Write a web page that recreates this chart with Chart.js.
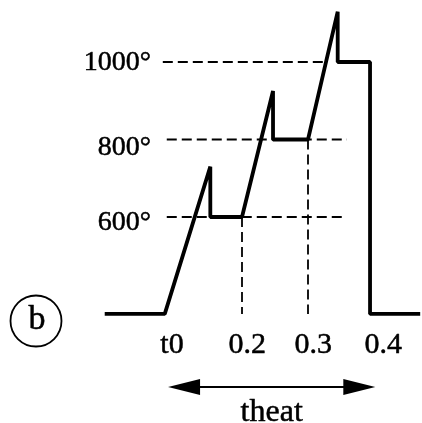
<!DOCTYPE html>
<html>
<head>
<meta charset="utf-8">
<script src="https://cdn.jsdelivr.net/npm/chart.js@4"></script>
<style>
html,body{margin:0;padding:0;background:#fff;}
#wrap{width:422px;height:423px;}
</style>
</head>
<body>
<div id="wrap"><canvas id="c" width="422" height="423"></canvas></div>
<script>
// Heating profile: time (x) vs temperature (y)
const profileTime = [-0.008, 0.083, 0.152, 0.152, 0.200, 0.247, 0.247, 0.300, 0.345, 0.345, 0.394, 0.394, 0.470];
const profileTemp = [350, 350, 730, 600, 600, 925, 800, 800, 1130, 1000, 1000, 350, 350];

// Dashed reference levels (temperature, x-start, x-end)
const levelTemps = [1000, 800, 600];
const levelStart = [0.080, 0.086, 0.086];
const levelEnd = [0.327, 0.359, 0.352];
const levelLabels = ['1000°', '800°', '600°'];

// Dashed verticals (time, top temperature)
const dropTimes = [0.200, 0.300];
const dropTops = [600, 800];
const baseTemp = 350;

// Time-axis labels
const xTickLabels = ['t0', '0.2', '0.3', '0.4'];
const xTickValues = [0.094, 0.208, 0.308, 0.414];

// Heating-time span arrow
const theatSpan = [0.088, 0.402];
const theatLabel = 'theat';
const panelLabel = 'b';

const datasets = [];
datasets.push({
  data: profileTime.map((t, i) => ({x: t, y: profileTemp[i]})),
  borderColor: '#000', borderWidth: 3.8, pointRadius: 0, tension: 0,
  borderJoinStyle: 'bevel', order: 0
});
levelTemps.forEach((v, i) => datasets.push({
  data: [{x: levelStart[i], y: v}, {x: levelEnd[i], y: v}],
  borderColor: '#000', borderWidth: 1.8, borderDash: [10, 5], pointRadius: 0, order: 1
}));
dropTimes.forEach((t, i) => datasets.push({
  data: [{x: t, y: dropTops[i]}, {x: t, y: baseTemp}],
  borderColor: '#000', borderWidth: 1.8, borderDash: [10, 5], pointRadius: 0, order: 1
}));

const SERIF = '"Liberation Serif", serif';

function boldText(ctx, s, x, y) {
  ctx.fillText(s, x, y);
  ctx.strokeText(s, x, y);
}

const annot = {
  id: 'annot',
  afterDatasetsDraw(chart) {
    const ctx = chart.ctx, xs = chart.scales.x, ys = chart.scales.y;
    ctx.save();
    ctx.fillStyle = '#000';
    ctx.strokeStyle = '#000';
    ctx.lineJoin = 'round';
    const TW = 0.5;
    // y labels
    ctx.lineWidth = TW;
    ctx.font = '28px ' + SERIF;
    ctx.textAlign = 'right';
    ctx.textBaseline = 'middle';
    const yOff = [1, 8, 6];
    levelTemps.forEach((v, i) => {
      boldText(ctx, levelLabels[i], 151, ys.getPixelForValue(v) + yOff[i]);
    });
    // x labels
    ctx.font = '30px ' + SERIF;
    ctx.textAlign = 'center';
    ctx.textBaseline = 'alphabetic';
    xTickValues.forEach((v, i) => {
      boldText(ctx, xTickLabels[i], xs.getPixelForValue(v), 353);
    });
    // arrow
    const x0 = xs.getPixelForValue(theatSpan[0]);
    const x1 = xs.getPixelForValue(theatSpan[1]);
    const ay = 387, hl = 32, hw = 8;
    ctx.lineWidth = 2;
    ctx.beginPath();
    ctx.moveTo(x0 + hl - 4, ay); ctx.lineTo(x1 - hl + 4, ay); ctx.stroke();
    ctx.beginPath();
    ctx.moveTo(x0, ay); ctx.lineTo(x0 + hl, ay - hw); ctx.lineTo(x0 + hl, ay + hw); ctx.closePath(); ctx.fill();
    ctx.beginPath();
    ctx.moveTo(x1, ay); ctx.lineTo(x1 - hl, ay - hw); ctx.lineTo(x1 - hl, ay + hw); ctx.closePath(); ctx.fill();
    ctx.lineWidth = TW;
    ctx.font = '32px ' + SERIF;
    boldText(ctx, theatLabel, (x0 + x1) / 2, 421);
    // panel label
    ctx.lineWidth = 1.8;
    ctx.beginPath();
    ctx.arc(36, 321, 25.5, 0, Math.PI * 2);
    ctx.stroke();
    ctx.lineWidth = TW;
    ctx.font = '34px ' + SERIF;
    boldText(ctx, panelLabel, 37, 329);
    ctx.restore();
  }
};

new Chart(document.getElementById('c'), {
  type: 'line',
  data: {datasets},
  options: {
    responsive: false,
    animation: false,
    devicePixelRatio: 1,
    layout: {padding: 0},
    plugins: {legend: {display: false}, tooltip: {enabled: false}},
    scales: {
      x: {type: 'linear', display: false, min: -0.16667, max: 0.47273},
      y: {type: 'linear', display: false, min: 68.4, max: 1160}
    }
  },
  plugins: [annot]
});
</script>
</body>
</html>
